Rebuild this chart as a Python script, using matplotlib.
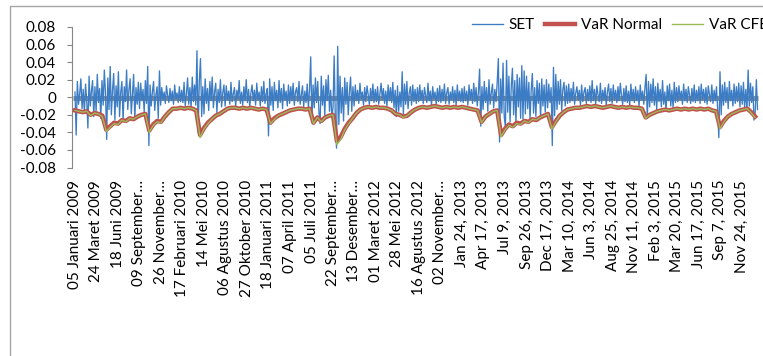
import numpy as np
import matplotlib
matplotlib.use("Agg")
import matplotlib.pyplot as plt
from matplotlib.patches import Rectangle

plt.rcParams['font.family'] = ['Lato', 'DejaVu Sans']
plt.rcParams['axes.unicode_minus'] = False

DAYS_PER_LABEL = 55   # trading days between category labels
SET_STEP = 3          # one SET reading every 3 trading days
VAR_STEP = 10         # one VaR reading every 10 trading days

tick_labels = [
    "05 Januari 2009", "24 Maret 2009", "18 Juni 2009", "09 September…",
    "26 November…", "17 Februari 2010", "14 Mei 2010", "06 Agustus 2010",
    "27 Oktober 2010", "18 Januari 2011", "07 April 2011", "05 Juli 2011",
    "22 September…", "13 Desember…", "01 Maret 2012", "28 Mei 2012",
    "16 Agustus 2012", "02 November…", "Jan 24, 2013", "Apr 17, 2013",
    "Jul 9, 2013", "Sep 26, 2013", "Dec 17, 2013", "Mar 10, 2014",
    "Jun 3, 2014", "Aug 25, 2014", "Nov 11, 2014", "Feb 3, 2015",
    "Mar 20, 2015", "Jun 17, 2015", "Sep 7, 2015", "Nov 24, 2015",
]

# SET daily returns, one row per label interval
set_returns = [
    0.006, -0.043, 0.018, -0.008, 0.004, 0.021, -0.013, 0.009, -0.018, 0.015, -0.004, -0.035, 0.024, -0.010, 0.007, 0.019, -0.022, 0.012,
    -0.016, 0.026, -0.006, 0.010, -0.024, 0.019, -0.009, 0.031, 0.005, -0.048, 0.022, -0.014, 0.035, -0.020, 0.008, 0.027, -0.026, 0.013,
    -0.011, 0.029, -0.022, 0.006, 0.018, -0.027, 0.012, -0.005, 0.031, -0.014, 0.009, 0.021, -0.019, 0.004, 0.026, -0.025, 0.011, -0.008, 0.017,
    -0.013, 0.016, -0.004, 0.009, -0.017, 0.019, -0.007, 0.035, -0.055, 0.014, -0.010, 0.006, 0.018, -0.015, 0.003, 0.012, -0.024, 0.030,
    -0.009, 0.011, -0.003, 0.006, -0.007, 0.013, 0.002, -0.006, 0.010, -0.004, 0.007, -0.008, 0.014, -0.002, 0.005, -0.006, 0.012, -0.005,
    0.008, -0.006, 0.017, -0.010, 0.004, 0.022, -0.008, 0.011, -0.012, 0.023, -0.005, 0.014, -0.009, 0.053, -0.040, 0.018, 0.044, -0.022, 0.012,
    -0.019, 0.021, -0.007, 0.010, -0.015, 0.018, -0.004, 0.023, -0.012, 0.006, 0.016, -0.018, 0.009, -0.006, 0.020, -0.011, 0.005, 0.014,
    -0.010, 0.013, -0.003, 0.007, -0.008, 0.017, -0.005, 0.004, 0.011, -0.011, 0.008, -0.002, 0.019, -0.007, 0.006, -0.009, 0.012, -0.004,
    0.020, -0.006, 0.009, -0.011, 0.005, 0.014, -0.004, 0.008, -0.009, 0.016, -0.003, 0.006, -0.010, 0.012, -0.005, 0.018, -0.007, 0.004, 0.010,
    -0.044, 0.021, -0.009, 0.012, -0.015, 0.017, -0.004, 0.008, -0.012, 0.019, -0.006, 0.010, -0.013, 0.015, -0.003, 0.007, -0.010, 0.014,
    -0.007, 0.012, -0.004, 0.016, -0.009, 0.006, 0.011, -0.005, 0.018, -0.008, 0.003, 0.013, -0.011, 0.007, -0.006, 0.015, -0.012, 0.009,
    0.046, -0.028, 0.014, -0.012, 0.022, -0.006, 0.018, -0.017, -0.030, 0.024, -0.009, 0.013, -0.021, 0.020, -0.004, 0.025, -0.016, 0.008, -0.023,
    -0.012, 0.047, -0.026, -0.058, 0.058, -0.031, 0.024, -0.018, 0.011, -0.027, 0.022, -0.008, 0.017, -0.020, 0.006, 0.023, -0.016, 0.012,
    -0.010, 0.014, -0.004, 0.008, -0.007, 0.016, -0.002, 0.006, -0.009, 0.011, -0.005, 0.013, 0.003, -0.008, 0.010, -0.004, 0.015, -0.006,
    0.009, -0.005, 0.012, -0.008, 0.004, 0.016, -0.003, 0.010, -0.007, 0.007, -0.010, 0.014, -0.004, 0.011, -0.006, 0.017, -0.012, 0.008, -0.022,
    0.013, -0.016, 0.006, -0.011, 0.029, -0.019, 0.015, -0.008, 0.018, -0.013, 0.005, 0.012, -0.009, 0.014, -0.005, 0.009, -0.007, 0.011,
    -0.005, 0.014, -0.003, 0.008, -0.007, 0.011, 0.002, -0.006, 0.016, -0.004, 0.007, -0.009, 0.012, -0.002, 0.006, -0.008, 0.010, -0.005,
    0.013, -0.006, 0.009, -0.004, 0.015, -0.007, 0.005, 0.011, -0.008, 0.006, -0.003, 0.012, -0.006, 0.008, -0.009, 0.014, -0.004, 0.007, -0.005,
    0.010, -0.006, 0.012, -0.004, 0.007, -0.009, 0.014, -0.003, 0.009, -0.007, 0.016, -0.005, 0.011, -0.010, 0.006, 0.032, -0.033, 0.012,
    -0.014, 0.018, -0.006, 0.011, -0.016, 0.020, -0.008, 0.005, 0.015, -0.012, 0.009, -0.005, 0.017, 0.044, -0.051, 0.021, -0.018, 0.039,
    -0.022, -0.034, 0.042, -0.017, 0.024, -0.028, 0.012, 0.033, -0.020, 0.019, -0.030, 0.026, -0.011, 0.022, -0.024, 0.036, -0.025, 0.030, -0.019,
    0.024, -0.013, 0.017, -0.026, 0.008, 0.027, -0.018, 0.011, -0.022, 0.019, -0.007, 0.016, -0.024, 0.021, -0.010, 0.014, -0.017, 0.020,
    -0.012, 0.015, -0.006, 0.011, -0.055, 0.034, -0.021, 0.026, -0.014, 0.018, -0.008, 0.020, -0.015, 0.009, 0.017, -0.010, 0.013, -0.007,
    0.015, -0.006, 0.010, -0.004, 0.017, -0.008, 0.005, 0.012, -0.003, 0.008, -0.009, 0.014, -0.005, 0.006, 0.011, -0.007, 0.009, -0.004, 0.013,
    -0.006, 0.019, -0.004, 0.009, -0.008, 0.013, 0.003, -0.005, 0.016, -0.007, 0.008, -0.003, 0.011, -0.009, 0.006, 0.015, -0.005, 0.010,
    -0.007, 0.014, -0.003, 0.008, -0.006, 0.012, -0.004, 0.016, 0.002, -0.008, 0.010, -0.005, 0.013, -0.006, 0.007, -0.009, 0.015, -0.004,
    0.009, -0.006, 0.012, -0.004, 0.008, -0.010, 0.014, -0.003, 0.007, -0.008, 0.011, 0.026, -0.024, 0.018, -0.011, 0.015, -0.006, 0.021, -0.009,
    0.012, -0.014, 0.016, -0.005, 0.009, -0.011, 0.019, -0.008, 0.006, -0.016, 0.013, -0.004, 0.015, -0.010, 0.008, -0.012, 0.017, -0.006,
    0.011, -0.005, 0.013, -0.003, 0.007, -0.008, 0.015, -0.004, 0.009, -0.006, 0.012, 0.002, -0.007, 0.010, -0.005, 0.014, -0.006, 0.008,
    -0.004, 0.012, -0.007, 0.015, -0.003, 0.009, -0.006, 0.011, -0.008, 0.013, 0.003, -0.005, 0.014, -0.007, 0.008, -0.004, 0.012, -0.014, -0.046,
    0.029, -0.020, 0.014, -0.009, 0.017, -0.006, 0.011, -0.013, 0.018, -0.004, 0.008, -0.010, 0.015, -0.007, 0.012, -0.005, 0.016, -0.011,
    0.013, -0.008, 0.017, -0.012, 0.009, -0.015, 0.031, -0.010, 0.016, -0.006, 0.012, -0.026, -0.018, 0.020, -0.014,
]

# VaR under normal assumption (one reading per 10 trading days)
var_normal = [
    -0.015, -0.016, -0.017, -0.016, -0.020, -0.018, -0.019, -0.021, -0.037, -0.033,
    -0.029, -0.030, -0.026, -0.027, -0.024, -0.025, -0.022, -0.020, -0.019, -0.038,
    -0.031, -0.027, -0.028, -0.022, -0.017, -0.013, -0.013, -0.012, -0.013, -0.012,
    -0.013, -0.015, -0.043, -0.035, -0.029, -0.025, -0.021, -0.019, -0.016, -0.013,
    -0.012, -0.012, -0.013, -0.012, -0.013, -0.012, -0.013, -0.014, -0.013, -0.014,
    -0.029, -0.024, -0.021, -0.019, -0.017, -0.015, -0.014, -0.013, -0.013, -0.014,
    -0.013, -0.029, -0.023, -0.027, -0.023, -0.021, -0.020, -0.050, -0.045, -0.036,
    -0.029, -0.024, -0.018, -0.014, -0.012, -0.011, -0.012, -0.011, -0.012, -0.012,
    -0.013, -0.015, -0.019, -0.020, -0.022, -0.021, -0.017, -0.014, -0.012, -0.011,
    -0.012, -0.011, -0.010, -0.011, -0.012, -0.011, -0.012, -0.011, -0.012, -0.011,
    -0.012, -0.013, -0.014, -0.015, -0.028, -0.022, -0.019, -0.016, -0.015, -0.043,
    -0.036, -0.031, -0.033, -0.029, -0.030, -0.027, -0.028, -0.025, -0.026, -0.023,
    -0.021, -0.019, -0.034, -0.027, -0.021, -0.017, -0.014, -0.013, -0.012, -0.012,
    -0.011, -0.010, -0.011, -0.010, -0.011, -0.012, -0.011, -0.010, -0.011, -0.012,
    -0.011, -0.012, -0.011, -0.012, -0.012, -0.013, -0.023, -0.020, -0.018, -0.016,
    -0.015, -0.014, -0.015, -0.014, -0.013, -0.014, -0.013, -0.014, -0.013, -0.014,
    -0.013, -0.014, -0.013, -0.015, -0.016, -0.034, -0.027, -0.022, -0.019, -0.017,
    -0.015, -0.014, -0.013, -0.017, -0.022,
]

# VaR Cornish-Fisher (same grid as var_normal)
var_cfe = [
    -0.015, -0.016, -0.017, -0.016, -0.021, -0.018, -0.019, -0.022, -0.039, -0.034,
    -0.030, -0.031, -0.026, -0.028, -0.024, -0.025, -0.022, -0.020, -0.019, -0.040,
    -0.032, -0.028, -0.029, -0.022, -0.017, -0.013, -0.013, -0.012, -0.013, -0.012,
    -0.013, -0.015, -0.046, -0.036, -0.030, -0.025, -0.021, -0.019, -0.016, -0.013,
    -0.012, -0.012, -0.013, -0.012, -0.013, -0.012, -0.013, -0.014, -0.013, -0.014,
    -0.030, -0.025, -0.021, -0.019, -0.017, -0.015, -0.014, -0.013, -0.013, -0.014,
    -0.013, -0.030, -0.023, -0.028, -0.023, -0.021, -0.020, -0.054, -0.048, -0.037,
    -0.030, -0.024, -0.018, -0.014, -0.012, -0.011, -0.012, -0.011, -0.012, -0.012,
    -0.013, -0.015, -0.019, -0.020, -0.023, -0.021, -0.017, -0.014, -0.012, -0.011,
    -0.012, -0.011, -0.010, -0.011, -0.012, -0.011, -0.012, -0.011, -0.012, -0.011,
    -0.012, -0.013, -0.014, -0.015, -0.029, -0.022, -0.019, -0.016, -0.015, -0.045,
    -0.037, -0.032, -0.034, -0.030, -0.031, -0.027, -0.029, -0.025, -0.026, -0.023,
    -0.021, -0.019, -0.036, -0.028, -0.021, -0.017, -0.014, -0.013, -0.012, -0.012,
    -0.011, -0.010, -0.011, -0.010, -0.011, -0.012, -0.011, -0.010, -0.011, -0.012,
    -0.011, -0.012, -0.011, -0.012, -0.012, -0.013, -0.024, -0.020, -0.018, -0.016,
    -0.015, -0.014, -0.015, -0.014, -0.013, -0.014, -0.013, -0.014, -0.013, -0.014,
    -0.013, -0.014, -0.013, -0.015, -0.016, -0.036, -0.028, -0.022, -0.019, -0.017,
    -0.015, -0.014, -0.013, -0.018, -0.023,
]

yticks = [-0.08, -0.06, -0.04, -0.02, 0.0, 0.02, 0.04, 0.06, 0.08]
ytick_labels = ["-0.08", "-0.06", "-0.04", "-0.02", "0", "0.02", "0.04", "0.06", "0.08"]

W, H = 763, 356
fig = plt.figure(figsize=(W / 100, H / 100), dpi=100)

# outer chart border (the picture is a crop, so only left and top edges show)
fig.patches.append(Rectangle((10 / W, -0.2), 1.5, 1 - 6 / H + 0.2,
                             transform=fig.transFigure, fill=False,
                             edgecolor='#a6a6a6', lw=1.0))

ax = fig.add_axes([72 / W, 1 - 167.5 / H, (830 - 72) / W, 140.5 / H])

x_set = np.arange(len(set_returns)) * SET_STEP
x_var = np.arange(len(var_normal)) * VAR_STEP

# thick grey horizontal axis line at zero, only under the data
ax.hlines(-0.001, x_set[0] - 5, x_set[-1], color='#8c8c8c', lw=3.6, zorder=1)
ax.plot(x_set, set_returns, color='#3b7cc4', lw=0.95, label='SET', zorder=2)
ax.plot(x_var, var_normal, color='#c0504d', lw=3.2, label='VaR Normal', zorder=3)
ax.plot(x_var, var_cfe, color='#9bbb59', lw=1.0, label='VaR CFE', zorder=4)

px_per_day = 21.5 / DAYS_PER_LABEL
ax.set_xlim(-3 / px_per_day, (830 - 75) / px_per_day)
ax.set_ylim(-0.08, 0.08)

ax.set_yticks(yticks)
ax.set_yticklabels(ytick_labels)
ax.set_xticks(np.arange(len(tick_labels)) * DAYS_PER_LABEL)
ax.set_xticklabels(tick_labels, rotation=90)

for s in ['top', 'right', 'bottom']:
    ax.spines[s].set_visible(False)
ax.spines['left'].set_color('#868686')
ax.spines['left'].set_linewidth(0.8)
ax.tick_params(axis='y', length=3.4, width=0.8, color='#868686', pad=8,
               labelsize=11, labelcolor='black')
ax.tick_params(axis='x', length=0, pad=9, labelsize=11, labelcolor='black')

fig.legend(loc='center left', bbox_to_anchor=(472 / W, 1 - 25 / H), ncol=3,
           frameon=False, fontsize=11, handlelength=2.0, handletextpad=0.4,
           columnspacing=0.65, borderpad=0, borderaxespad=0)

fig.savefig('out.png', dpi=100)
